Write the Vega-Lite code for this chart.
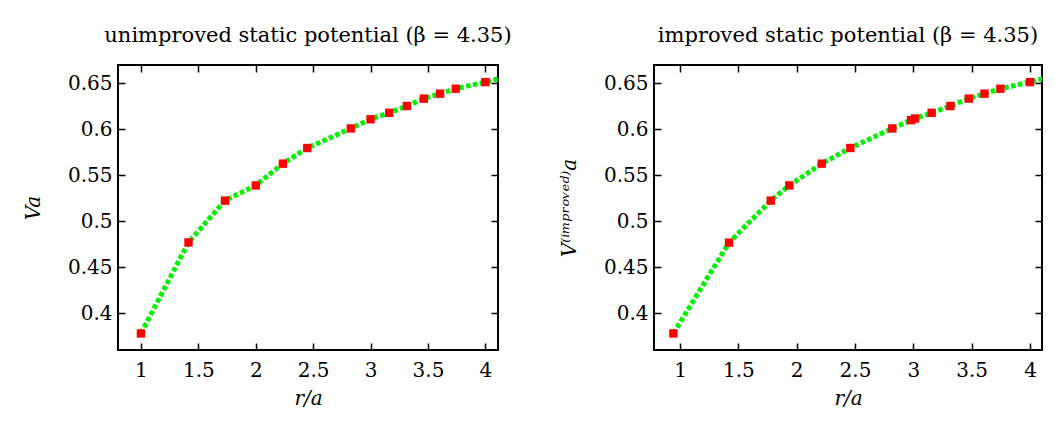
{
  "$schema": "https://vega.github.io/schema/vega-lite/v6.json",
  "background": "white",
  "padding": {"left": 22, "top": 24, "right": 0, "bottom": 0},
  "spacing": 45,
  "datasets": {
    "unimp": [
      {"r": 1.0, "V": 0.378},
      {"r": 1.414, "V": 0.477},
      {"r": 1.732, "V": 0.5225},
      {"r": 2.0, "V": 0.539},
      {"r": 2.236, "V": 0.5627},
      {"r": 2.449, "V": 0.5797},
      {"r": 2.828, "V": 0.601},
      {"r": 3.0, "V": 0.611},
      {"r": 3.162, "V": 0.618},
      {"r": 3.317, "V": 0.6254},
      {"r": 3.464, "V": 0.6334},
      {"r": 3.606, "V": 0.6388},
      {"r": 3.742, "V": 0.6442},
      {"r": 4.0, "V": 0.6514},
      {"r": 4.123, "V": 0.6552}
    ],
    "imp": [
      {"r": 0.943, "V": 0.378},
      {"r": 1.42, "V": 0.4768},
      {"r": 1.778, "V": 0.5225},
      {"r": 1.937, "V": 0.539},
      {"r": 2.215, "V": 0.5627},
      {"r": 2.46, "V": 0.5797},
      {"r": 2.82, "V": 0.601},
      {"r": 2.98, "V": 0.61},
      {"r": 3.015, "V": 0.6118},
      {"r": 3.157, "V": 0.618},
      {"r": 3.318, "V": 0.6254},
      {"r": 3.475, "V": 0.6334},
      {"r": 3.61, "V": 0.6388},
      {"r": 3.746, "V": 0.6442},
      {"r": 4.0, "V": 0.6514},
      {"r": 4.13, "V": 0.6558}
    ]
  },
  "hconcat": [
    {
      "width": 380,
      "height": 285,
      "title": "unimproved static potential (β = 4.35)",
      "data": {"name": "unimp"},
      "layer": [
        {
          "mark": {"type": "line", "color": "#00f000", "strokeWidth": 5, "strokeDash": [4.5, 2.5], "clip": true},
          "encoding": {
            "x": {"field": "r", "type": "quantitative", "scale": {"domain": [0.8, 4.11], "nice": false, "zero": false},
                  "axis": {"orient": "bottom", "values": [1, 1.5, 2, 2.5, 3, 3.5, 4], "format": "~g", "title": "r/a", "titleFontStyle": "italic"}},
            "y": {"field": "V", "type": "quantitative", "scale": {"domain": [0.36, 0.67], "nice": false, "zero": false},
                  "axis": {"orient": "left", "values": [0.4, 0.45, 0.5, 0.55, 0.6, 0.65], "format": "~g", "title": "Va", "titleFontStyle": "italic"}}
          }
        },
        {
          "transform": [{"filter": "datum.r < 4.05"}],
          "mark": {"type": "square", "color": "#ff0000", "size": 70, "opacity": 1},
          "encoding": {
            "x": {"field": "r", "type": "quantitative", "axis": {"orient": "top", "values": [1, 1.5, 2, 2.5, 3, 3.5, 4], "labels": false, "title": null}},
            "y": {"field": "V", "type": "quantitative", "axis": {"orient": "right", "values": [0.4, 0.45, 0.5, 0.55, 0.6, 0.65], "labels": false, "title": null}}
          }
        }
      ],
      "resolve": {"axis": {"x": "independent", "y": "independent"}}
    },
    {
      "width": 388,
      "height": 285,
      "title": "improved static potential (β = 4.35)",
      "data": {"name": "imp"},
      "layer": [
        {
          "mark": {"type": "line", "color": "#00f000", "strokeWidth": 5, "strokeDash": [4.5, 2.5], "clip": true},
          "encoding": {
            "x": {"field": "r", "type": "quantitative", "scale": {"domain": [0.777, 4.103], "nice": false, "zero": false},
                  "axis": {"orient": "bottom", "values": [1, 1.5, 2, 2.5, 3, 3.5, 4], "format": "~g", "title": "r/a", "titleFontStyle": "italic"}},
            "y": {"field": "V", "type": "quantitative", "scale": {"domain": [0.36, 0.67], "nice": false, "zero": false},
                  "axis": {"orient": "left", "values": [0.4, 0.45, 0.5, 0.55, 0.6, 0.65], "format": "~g", "title": "V⁽ⁱᵐᵖʳᵒᵛᵉᵈ⁾a", "titleFontStyle": "italic"}}
          }
        },
        {
          "transform": [{"filter": "datum.r < 4.05"}],
          "mark": {"type": "square", "color": "#ff0000", "size": 70, "opacity": 1},
          "encoding": {
            "x": {"field": "r", "type": "quantitative", "axis": {"orient": "top", "values": [1, 1.5, 2, 2.5, 3, 3.5, 4], "labels": false, "title": null}},
            "y": {"field": "V", "type": "quantitative", "axis": {"orient": "right", "values": [0.4, 0.45, 0.5, 0.55, 0.6, 0.65], "labels": false, "title": null}}
          }
        }
      ],
      "resolve": {"axis": {"x": "independent", "y": "independent"}}
    }
  ],
  "config": {
    "font": "DejaVu Serif",
    "view": {"stroke": "black", "strokeWidth": 2, "fill": "white"},
    "title": {"font": "DejaVu Serif", "fontSize": 21, "fontWeight": "normal", "color": "black", "offset": 18, "anchor": "middle"},
    "axis": {
      "domain": false,
      "grid": false,
      "ticks": true,
      "tickSize": -7,
      "tickWidth": 1.5,
      "tickColor": "black",
      "labelFont": "DejaVu Serif",
      "labelFontSize": 20,
      "labelColor": "black",
      "titleFont": "DejaVu Serif",
      "titleFontSize": 20,
      "titleFontWeight": "normal",
      "titleColor": "black",
      "labelFlush": false,
      "labelOverlap": false
    },
    "axisLeft": {"labelPadding": 13, "titlePadding": 24},
    "axisBottom": {"labelPadding": 17, "titlePadding": 8},
    "axisTop": {"labelPadding": 0},
    "axisRight": {"labelPadding": 0}
  }
}
